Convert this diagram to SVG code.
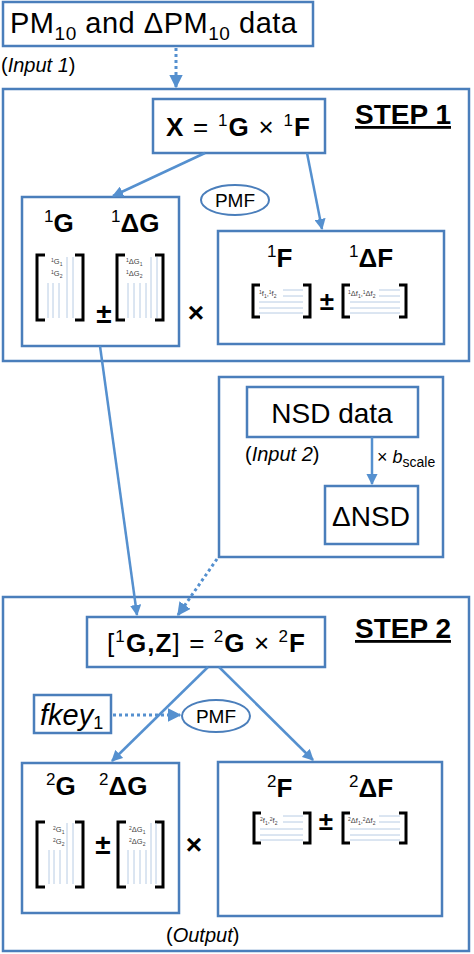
<svg xmlns="http://www.w3.org/2000/svg" width="474" height="954" viewBox="0 0 474 954">
<style>
text{font-family:"Liberation Sans",Arial,sans-serif;fill:#000}
.box{fill:#fff;stroke:#4a7ebb;stroke-width:2.5}
.con{fill:none;stroke:#5590cf;stroke-width:2.5}
.dot{fill:none;stroke:#5590cf;stroke-width:3;stroke-dasharray:3 3}
.br{fill:none;stroke:#000;stroke-width:3}
.ml{stroke:#b8cce4;stroke-width:1}
.b{font-weight:bold}
.i{font-style:italic}
.tiny{font-size:7.5px;fill:#444}
.lab{font-size:26px}
.sup{font-size:17px}
.op{font-weight:bold;text-anchor:middle}
</style>
<defs>
<marker id="ah" viewBox="0 0 10 10" refX="9" refY="5" markerWidth="4.5" markerHeight="4.5" orient="auto" markerUnits="strokeWidth">
<path d="M0,0 L10,5 L0,10 z" fill="#5590cf"/>
</marker>
</defs>
<rect width="474" height="954" fill="#fff"/>

<g id="step1">
<rect class="box" x="3" y="89" width="466" height="272"/>
<text x="355" y="124" class="b" font-size="28" text-decoration="underline">STEP 1</text>
</g>
<g id="step2">
<rect class="box" x="3" y="597" width="466" height="354"/>
<text x="355" y="638" class="b" font-size="28" text-decoration="underline">STEP 2</text>
</g>

<g id="input1">
<rect class="box" x="3" y="2" width="310" height="44"/>
<text x="10" y="33" font-size="29" textLength="287" lengthAdjust="spacing">PM<tspan font-size="19" dy="7">10</tspan><tspan dy="-7"> and ΔPM</tspan><tspan font-size="19" dy="7">10</tspan><tspan dy="-7"> data</tspan></text>
<text x="1" y="72" font-size="20">(<tspan class="i">Input 1</tspan>)</text>
</g>

<g id="eq1">
<rect class="box" x="153" y="99" width="172" height="54"/>
<text x="166" y="136" font-size="26" textLength="144" lengthAdjust="spacing"><tspan class="b">X</tspan> = <tspan class="sup" dy="-10">1</tspan><tspan class="b" dy="10">G</tspan> × <tspan class="sup" dy="-10">1</tspan><tspan class="b" dy="10">F</tspan></text>
</g>

<g id="pmf1">
<ellipse cx="235" cy="200" rx="34" ry="15" fill="#fff" stroke="#4a7ebb" stroke-width="2"/>
<text x="235" y="207" font-size="19" text-anchor="middle">PMF</text>
</g>

<g id="g1">
<rect class="box" x="22" y="197" width="157" height="149"/>
<text x="44" y="232" class="lab"><tspan class="sup" dy="-10">1</tspan><tspan class="b" dy="10">G</tspan></text>
<text x="111" y="232" class="lab"><tspan class="sup" dy="-10">1</tspan><tspan class="b" dy="10">ΔG</tspan></text>
<path class="br" d="M45,255 H37 V320 H45 M75,255 H83 V320 H75"/>
<path class="ml" d="M48,283 V318 M53,283 V318 M59,283 V318 M67,257 V318 M73,257 V318"/>
<text x="51" y="264" class="tiny"><tspan font-size="5" dy="-2.5">1</tspan><tspan dy="2.5">G</tspan><tspan font-size="5" dy="1.5">1</tspan></text>
<text x="51" y="276" class="tiny"><tspan font-size="5" dy="-2.5">1</tspan><tspan dy="2.5">G</tspan><tspan font-size="5" dy="1.5">2</tspan></text>
<text x="104" y="323" font-size="28" class="op">±</text>
<path class="br" d="M125,255 H117 V320 H125 M155,255 H163 V320 H155"/>
<path class="ml" d="M128,283 V318 M134,283 V318 M140,283 V318 M146,283 V318 M151,257 V318 M157,257 V318"/>
<text x="126" y="264" class="tiny"><tspan font-size="5" dy="-2.5">1</tspan><tspan dy="2.5">ΔG</tspan><tspan font-size="5" dy="1.5">1</tspan></text>
<text x="126" y="276" class="tiny"><tspan font-size="5" dy="-2.5">1</tspan><tspan dy="2.5">ΔG</tspan><tspan font-size="5" dy="1.5">2</tspan></text>
</g>
<text x="196" y="322" font-size="28" class="op">×</text>

<g id="f1">
<rect class="box" x="218" y="231" width="226" height="113"/>
<text x="267" y="267" class="lab"><tspan class="sup" dy="-10">1</tspan><tspan class="b" dy="10">F</tspan></text>
<text x="349" y="267" class="lab"><tspan class="sup" dy="-10">1</tspan><tspan class="b" dy="10">ΔF</tspan></text>
<path class="br" d="M260,285 H253 V317 H260 M303,285 H310 V317 H303"/>
<path class="ml" d="M283,290 H303 M283,296 H303 M259,302 H303 M259,308 H303 M259,313 H303"/>
<text x="259" y="296" class="tiny"><tspan font-size="5" dy="-2.5">1</tspan><tspan dy="2.5">f</tspan><tspan font-size="5" dy="1.5">1</tspan><tspan dy="-1.5">,</tspan><tspan font-size="5" dy="-2.5">1</tspan><tspan dy="2.5">f</tspan><tspan font-size="5" dy="1.5">2</tspan></text>
<text x="327" y="310" font-size="26" class="op">±</text>
<path class="br" d="M350,285 H343 V317 H350 M399,285 H406 V317 H399"/>
<path class="ml" d="M379,290 H400 M379,296 H400 M350,302 H400 M350,308 H400 M350,313 H400"/>
<text x="348" y="296" class="tiny"><tspan font-size="5" dy="-2.5">1</tspan><tspan dy="2.5">Δf</tspan><tspan font-size="5" dy="1.5">1</tspan><tspan dy="-1.5">,</tspan><tspan font-size="5" dy="-2.5">1</tspan><tspan dy="2.5">Δf</tspan><tspan font-size="5" dy="1.5">2</tspan></text>
</g>

<g id="nsdgroup">
<rect class="box" x="219" y="377" width="224" height="180"/>
</g>
<g id="nsd">
<rect class="box" x="247" y="387" width="171" height="50"/>
<text x="332" y="423" font-size="28" text-anchor="middle">NSD data</text>
<text x="245" y="461" font-size="20">(<tspan class="i">Input 2</tspan>)</text>
</g>
<g id="dnsd">
<rect class="box" x="325" y="486" width="93" height="58"/>
<text x="371" y="526" font-size="28" text-anchor="middle">ΔNSD</text>
</g>
<text x="377" y="463" font-size="18">× <tspan class="i">b</tspan><tspan font-size="14" dy="4">scale</tspan></text>

<g id="eq2">
<rect class="box" x="87" y="617" width="238" height="50"/>
<text x="107" y="652" font-size="26" textLength="198" lengthAdjust="spacing">[<tspan class="sup" dy="-10">1</tspan><tspan class="b" dy="10">G,Z</tspan>] = <tspan class="sup" dy="-10">2</tspan><tspan class="b" dy="10">G</tspan> × <tspan class="sup" dy="-10">2</tspan><tspan class="b" dy="10">F</tspan></text>
</g>

<g id="fkey">
<rect class="box" x="34" y="695" width="77" height="38"/>
<text x="40" y="725" font-size="29" class="i">fkey<tspan font-size="18" dy="4" font-style="normal">1</tspan></text>
</g>

<g id="pmf2">
<ellipse cx="216" cy="716" rx="34" ry="16" fill="#fff" stroke="#4a7ebb" stroke-width="2"/>
<text x="216" y="723" font-size="19" text-anchor="middle">PMF</text>
</g>

<g id="g2">
<rect class="box" x="22" y="763" width="157" height="150"/>
<text x="46" y="795" class="lab"><tspan class="sup" dy="-10">2</tspan><tspan class="b" dy="10">G</tspan></text>
<text x="99" y="795" class="lab"><tspan class="sup" dy="-10">2</tspan><tspan class="b" dy="10">ΔG</tspan></text>
<path class="br" d="M45,822 H37 V887 H45 M75,822 H83 V887 H75"/>
<path class="ml" d="M49,850 V884 M54,850 V884 M60,850 V884 M67,823 V884 M73,823 V884"/>
<text x="53" y="832" class="tiny"><tspan font-size="5" dy="-2.5">2</tspan><tspan dy="2.5">G</tspan><tspan font-size="5" dy="1.5">1</tspan></text>
<text x="53" y="844" class="tiny"><tspan font-size="5" dy="-2.5">2</tspan><tspan dy="2.5">G</tspan><tspan font-size="5" dy="1.5">2</tspan></text>
<text x="103" y="854" font-size="28" class="op">±</text>
<path class="br" d="M126,822 H118 V887 H126 M155,822 H163 V887 H155"/>
<path class="ml" d="M128,850 V884 M134,850 V884 M140,850 V884 M146,850 V884 M151,823 V884 M156,823 V884"/>
<text x="129" y="832" class="tiny"><tspan font-size="5" dy="-2.5">2</tspan><tspan dy="2.5">ΔG</tspan><tspan font-size="5" dy="1.5">1</tspan></text>
<text x="129" y="844" class="tiny"><tspan font-size="5" dy="-2.5">2</tspan><tspan dy="2.5">ΔG</tspan><tspan font-size="5" dy="1.5">2</tspan></text>
</g>
<text x="194" y="854" font-size="28" class="op">×</text>

<g id="f2">
<rect class="box" x="218" y="762" width="224" height="154"/>
<text x="267" y="797" class="lab"><tspan class="sup" dy="-10">2</tspan><tspan class="b" dy="10">F</tspan></text>
<text x="349" y="797" class="lab"><tspan class="sup" dy="-10">2</tspan><tspan class="b" dy="10">ΔF</tspan></text>
<path class="br" d="M261,813 H254 V843 H261 M303,813 H310 V843 H303"/>
<path class="ml" d="M283,816 H303 M283,822 H303 M260,829 H303 M260,835 H303 M260,840 H303"/>
<text x="260" y="823" class="tiny"><tspan font-size="5" dy="-2.5">2</tspan><tspan dy="2.5">f</tspan><tspan font-size="5" dy="1.5">1</tspan><tspan dy="-1.5">,</tspan><tspan font-size="5" dy="-2.5">2</tspan><tspan dy="2.5">f</tspan><tspan font-size="5" dy="1.5">2</tspan></text>
<text x="326" y="830" font-size="26" class="op">±</text>
<path class="br" d="M350,813 H343 V843 H350 M399,813 H406 V843 H399"/>
<path class="ml" d="M379,816 H400 M379,822 H400 M350,829 H400 M350,835 H400 M350,840 H400"/>
<text x="348" y="823" class="tiny"><tspan font-size="5" dy="-2.5">2</tspan><tspan dy="2.5">Δf</tspan><tspan font-size="5" dy="1.5">1</tspan><tspan dy="-1.5">,</tspan><tspan font-size="5" dy="-2.5">2</tspan><tspan dy="2.5">Δf</tspan><tspan font-size="5" dy="1.5">2</tspan></text>
</g>
<text x="166" y="942" font-size="20">(<tspan class="i">Output</tspan>)</text>

<g id="connectors">
<path class="dot" d="M176,48 V87" marker-end="url(#ah)"/>
<path class="con" d="M205,153 L113,196" marker-end="url(#ah)"/>
<path class="con" d="M307,153 L322,229" marker-end="url(#ah)"/>
<path class="con" d="M100,346 L137,615" marker-end="url(#ah)"/>
<path class="dot" d="M217,559 L178,615" marker-end="url(#ah)"/>
<path class="con" d="M372,437 V484" marker-end="url(#ah)"/>
<path class="con" d="M208,667 L112,761" marker-end="url(#ah)"/>
<path class="con" d="M219,667 L313,760" marker-end="url(#ah)"/>
<path class="dot" d="M113,715 H180" marker-end="url(#ah)"/>
</g>
</svg>
